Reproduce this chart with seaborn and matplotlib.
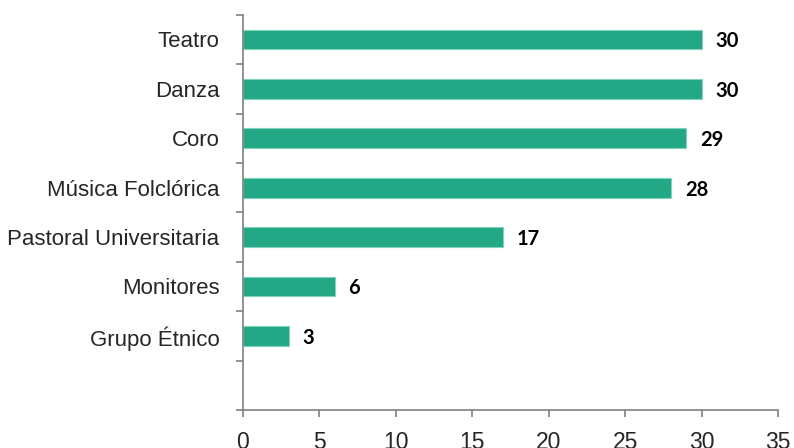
import numpy as np
import pandas as pd
import matplotlib
matplotlib.use("Agg")
import matplotlib.pyplot as plt
import seaborn as sns
from matplotlib.ticker import MultipleLocator, FixedLocator

categorias = ["Teatro", "Danza", "Coro", "Música Folclórica",
              "Pastoral Universitaria", "Monitores", "Grupo Étnico"]
valores = [30, 30, 29, 28, 17, 6, 3]

df = pd.DataFrame({"grupo": categorias, "n": valores})

sns.set_style("white")
plt.rcParams["font.family"] = ["Liberation Sans", "DejaVu Sans"]

fig = plt.figure(figsize=(7.94, 4.48), dpi=100)
ax = fig.add_axes([0.306, 0.085, 0.674, 0.882])

sns.barplot(data=df, x="n", y="grupo", order=categorias, color="#22A884",
            saturation=1, width=0.4, edgecolor="#7fd3bb", linewidth=0.8, ax=ax)

# etiquetas de valor
for i, v in enumerate(valores):
    ax.text(v + 0.9, i + 0.04, str(v), va="center", ha="left", fontsize=14.5,
            fontweight="bold", family=["Lato", "DejaVu Sans"], color="black")

ax.set_xlim(0, 35)
ax.set_ylim(7.5, -0.5)
ax.xaxis.set_major_locator(MultipleLocator(5))
ax.yaxis.set_minor_locator(FixedLocator(np.arange(-0.5, 8, 1)))
ax.set_xlabel("")
ax.set_ylabel("")

for s in ["top", "right"]:
    ax.spines[s].set_visible(False)
for s in ["left", "bottom"]:
    ax.spines[s].set_color("#808080")
    ax.spines[s].set_linewidth(1.2)

ax.tick_params(axis="y", which="major", length=0, pad=17, labelsize=16)
ax.tick_params(axis="y", which="minor", length=5, color="#808080", width=1.2,
               left=True)
ax.tick_params(axis="x", which="major", length=5, color="#808080", width=1.2,
               bottom=True, pad=10, labelsize=16.5)

fig.savefig("out.png", dpi=100)
